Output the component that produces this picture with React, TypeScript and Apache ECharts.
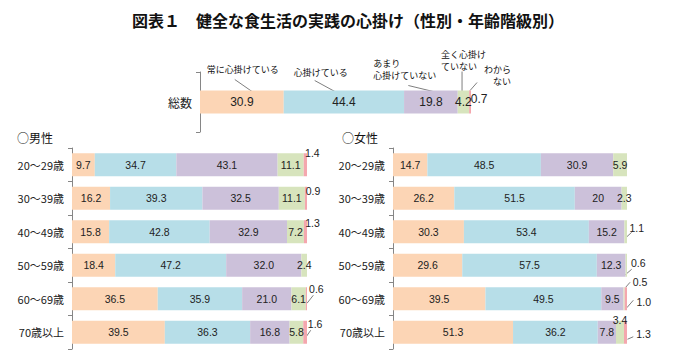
import React, { useEffect, useRef } from 'react';
import * as echarts from 'echarts';

const SERIES_NAMES = ['常に心掛けている', '心掛けている', 'あまり心掛けていない', '全く心掛けていない', 'わからない'];
const CALLOUT_TEXTS = ['常に心掛けている', '心掛けている', 'あまり\n心掛けていない', '全く心掛け\nていない', 'わから\nない'];
const COLORS = ['#FCD5B5', '#B7DEE8', '#CCC1DA', '#D7E4BD', '#F4A7AE'];

const totalCategories = ['総数'];
const totalValues = ['30.9', '44.4', '19.8', '4.2', '0.7'];

const ageCategories = ['20～29歳', '30～39歳', '40～49歳', '50～59歳', '60～69歳', '70歳以上'];

const maleAlways = ['9.7', '16.2', '15.8', '18.4', '36.5', '39.5'];
const maleSomewhat = ['34.7', '39.3', '42.8', '47.2', '35.9', '36.3'];
const maleRarely = ['43.1', '32.5', '32.9', '32.0', '21.0', '16.8'];
const maleNever = ['11.1', '11.1', '7.2', '2.4', '6.1', '5.8'];
const maleUnknown = ['1.4', '0.9', '1.3', '', '0.6', '1.6'];

const femaleAlways = ['14.7', '26.2', '30.3', '29.6', '39.5', '51.3'];
const femaleSomewhat = ['48.5', '51.5', '53.4', '57.5', '49.5', '36.2'];
const femaleRarely = ['30.9', '20', '15.2', '12.3', '9.5', '7.8'];
const femaleNever = ['5.9', '2.3', '1.1', '0.6', '0.5', '3.4'];
const femaleUnknown = ['', '', '', '', '1.0', '1.3'];

// label displacement (style only), key = grid:series:row
const LABEL_SHIFT: Record<string, [number, number]> = {
  '0:4:0': [9, -3],
  '1:4:0': [7, -12],
  '1:4:1': [7, -7],
  '1:4:2': [7, -9],
  '1:4:4': [10, -10],
  '1:4:5': [10, -8],
  '2:3:2': [11, -4],
  '2:3:3': [12, -2],
  '2:3:4': [16, -17],
  '2:4:4': [18, 3],
  '2:3:5': [0, -12],
  '2:4:5': [18, 2],
};
// leader lines, offsets relative to the segment centre: [x1, y1, x2, y2]
const LEADERS: Record<string, [number, number, number, number]> = {
  '1:4:4': [0.5, 4.5, 6.8, -3.5],
  '1:4:5': [0, 6, 5.6, -2],
  '2:3:2': [-0.5, 6.5, 6, 0.5],
  '2:3:3': [-1, 9.5, 5.4, 4],
  '2:3:4': [1.6, -11.5, 6, -16.5],
  '2:4:4': [1, 9, 7.5, 1.5],
  '2:4:5': [2, 7, 7.8, 4.5],
};

const FONT = "'Liberation Sans', 'Noto Sans CJK JP', sans-serif";
const JFONT = "'Noto Sans CJK JP', sans-serif";
const AXIS_COLOR = '#868686';

export default function App() {
  const ref = useRef<HTMLDivElement>(null);

  useEffect(() => {
    if (!ref.current) return;
    const chart = echarts.init(ref.current, undefined, { renderer: 'svg' });

    const grids = [
      { left: 200, top: 72, width: 271, height: 60 },
      { left: 72, top: 148, width: 235, height: 201 },
      { left: 393, top: 148, width: 234, height: 201 },
    ];
    const cats = [totalCategories, ageCategories, ageCategories];
    const groups = [
      [[totalValues[0]], [totalValues[1]], [totalValues[2]], [totalValues[3]], [totalValues[4]]],
      [maleAlways, maleSomewhat, maleRarely, maleNever, maleUnknown],
      [femaleAlways, femaleSomewhat, femaleRarely, femaleNever, femaleUnknown],
    ];
    const labelSizes = [12, 10.5, 10.5];

    const series: any[] = [];
    groups.forEach((grp, g) => {
      grp.forEach((arr, s) => {
        series.push({
          type: 'bar',
          name: SERIES_NAMES[s],
          xAxisIndex: g,
          yAxisIndex: g,
          stack: 'stack' + g,
          barWidth: 23,
          itemStyle: { color: COLORS[s] },
          label: {
            show: true,
            position: 'inside',
            color: '#222',
            fontSize: labelSizes[g],
            fontFamily: FONT,
            formatter: (p: any) => arr[p.dataIndex],
          },
          labelLayout: (p: any) => {
            const o = LABEL_SHIFT[`${g}:${s}:${p.dataIndex}`];
            return o ? { dx: o[0], dy: o[1] } : {};
          },
          data: arr.map((v) => {
            const item: any = { value: v === '' ? 0 : Number(v) };
            if (v === '') item.label = { show: false };
            return item;
          }),
        });
      });
    });

    chart.setOption({
      animation: false,
      backgroundColor: '#ffffff',
      title: {
        text: '図表１　健全な食生活の実践の心掛け（性別・年齢階級別）',
        left: 127,
        top: 7,
        textStyle: { fontSize: 16, fontWeight: 'bold', color: '#111', fontFamily: JFONT },
      },
      grid: grids.map((gr) => ({ ...gr, containLabel: false })),
      xAxis: grids.map((_, g) => ({ type: 'value', gridIndex: g, min: 0, max: 100, show: false })),
      yAxis: grids.map((_, g) => ({
        type: 'category',
        gridIndex: g,
        data: cats[g],
        inverse: true,
        axisLine: { show: true, lineStyle: { color: AXIS_COLOR, width: 1 } },
        axisTick: { show: true, length: 4, lineStyle: { color: AXIS_COLOR } },
        axisLabel: { color: '#222', fontSize: g === 0 ? 12 : 11, margin: 8, fontFamily: JFONT },
        splitLine: { show: false },
      })),
      series,
    });

    const elements: any[] = [];

    // leader lines for small segments, anchored on segment centres via the axes
    groups.forEach((grp, g) => {
      if (g === 0) return;
      for (let row = 0; row < grp[0].length; row++) {
        let cum = 0;
        grp.forEach((arr, s) => {
          const v = arr[row] === '' ? 0 : Number(arr[row]);
          const key = `${g}:${s}:${row}`;
          const L = LEADERS[key];
          if (L) {
            const c = chart.convertToPixel({ xAxisIndex: g, yAxisIndex: g } as any, [cum + v / 2, row]) as number[];
            elements.push({
              type: 'line',
              shape: { x1: c[0] + L[0], y1: c[1] + L[1], x2: c[0] + L[2], y2: c[1] + L[3] },
              style: { stroke: '#7f7f7f', lineWidth: 1 },
              silent: true,
            });
          }
          cum += v;
        });
      }
    });

    // callouts for the total bar
    const fracs = [0.69, 0.44, 0.62, 0.38, 0.5];
    const lineStart: [number, number][] = [[-23, -16], [-22, -12], [-29, -7], [0, -21], [7, -8]];
    const endDy = [5, 2, 2, 2, 0];
    const textPos: [number, number, string][] = [
      [-28, -16, 'left'],
      [-21, -14, 'left'],
      [-35, -28, 'left'],
      [-21, -23, 'left'],
      [34, -19, 'right'],
    ];
    let cum = 0;
    totalValues.forEach((vs, i) => {
      const v = Number(vs);
      const pt = chart.convertToPixel({ xAxisIndex: 0, yAxisIndex: 0 } as any, [cum + v * fracs[i], 0]) as number[];
      cum += v;
      const ex = pt[0];
      const ey = pt[1] - 11.5 + endDy[i];
      const sx = ex + lineStart[i][0];
      const sy = ey + lineStart[i][1];
      elements.push({
        type: 'line',
        shape: { x1: sx, y1: sy, x2: ex, y2: ey },
        style: { stroke: '#7f7f7f', lineWidth: 1 },
        silent: true,
      });
      elements.push({
        type: 'text',
        x: sx + textPos[i][0],
        y: sy + textPos[i][1],
        style: {
          text: CALLOUT_TEXTS[i],
          fill: '#111',
          font: `9px ${JFONT}`,
          align: textPos[i][2],
          verticalAlign: 'top',
          lineHeight: 12,
        },
        silent: true,
      });
    });
    elements.push({
      type: 'text',
      x: 17,
      y: 131,
      style: { text: '○男性', fill: '#111', font: `12px ${JFONT}`, verticalAlign: 'top' },
    });
    elements.push({
      type: 'text',
      x: 342,
      y: 131,
      style: { text: '○女性', fill: '#111', font: `12px ${JFONT}`, verticalAlign: 'top' },
    });
    chart.setOption({ graphic: elements });

    return () => chart.dispose();
  }, []);

  return (
    <div
      ref={ref}
      style={{ position: 'absolute', left: 0, top: 0, width: 673, height: 356 }}
    />
  );
}
